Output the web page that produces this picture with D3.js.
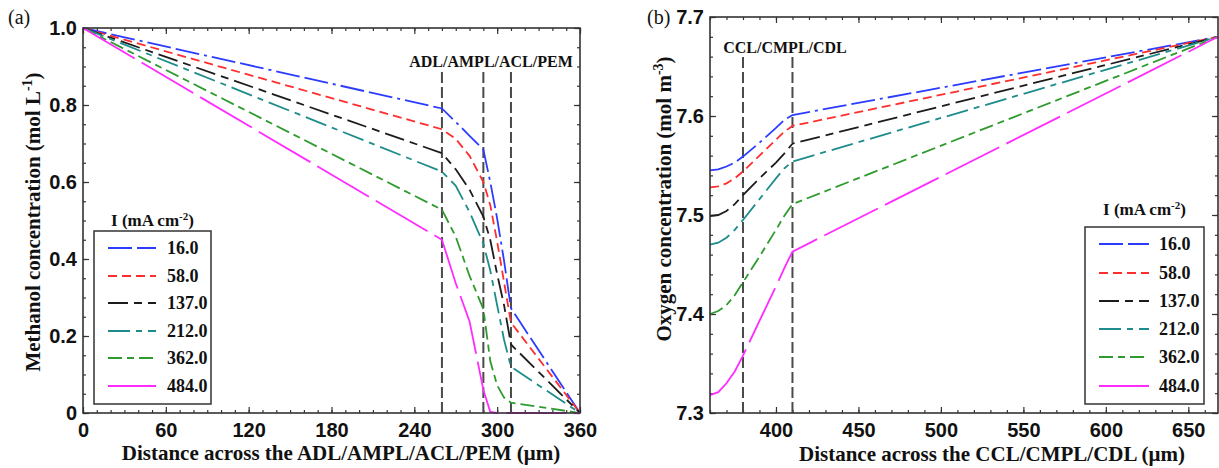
<!DOCTYPE html>
<html>
<head>
<meta charset="utf-8">
<script src="https://cdn.jsdelivr.net/npm/d3@7"></script>
<style>
  body { margin: 0; background: #fff; }
  svg { display: block; font-family: "Liberation Serif", "Times New Roman", serif; }
  .tick text { font-weight: bold; font-size: 20px; fill: #111; }
  .tick line { stroke: #333; stroke-width: 1.2; }
</style>
</head>
<body>
<div id="chart"></div>
<script>
// current densities (legend) and their styles
const currents = ["16.0", "58.0", "137.0", "212.0", "362.0", "484.0"];
const colors = ["#2b3cff", "#ff2e2e", "#1c1c1c", "#1f8c8c", "#2f9b2f", "#ff2cff"];
const dashes = ["24,5,24,5,3,5", "9,5", "20,6,8,6", "22,6,6,6", "14,5,7,5", "60,8"];

// (a) methanol concentration across ADL/AMPL/ACL/PEM
const methanolDist = [0, 260, 270, 280, 290, 295, 300, 305, 310, 360];
const methanol16  = [1.0, 0.791, 0.756, 0.720, 0.684, 0.600, 0.505, 0.395, 0.272, 0];
const methanol58  = [1.0, 0.737, 0.712, 0.668, 0.600, 0.540, 0.445, 0.340, 0.235, 0];
const methanol137 = [1.0, 0.675, 0.633, 0.580, 0.510, 0.450, 0.360, 0.280, 0.178, 0];
const methanol212 = [1.0, 0.627, 0.590, 0.522, 0.440, 0.370, 0.280, 0.190, 0.120, 0];
const methanol362 = [1.0, 0.528, 0.458, 0.356, 0.270, 0.135, 0.072, 0.040, 0.027, 0];
const methanol484 = [1.0, 0.450, 0.337, 0.238, 0.060, 0.003, 0, 0, 0, 0];
const methanolLayers = [260, 290, 310];
const methanolXTicks = [0, 60, 120, 180, 240, 300, 360];
const methanolYTicks = [0, 0.2, 0.4, 0.6, 0.8, 1.0];

// (b) oxygen concentration across CCL/CMPL/CDL
const oxygenDist = [360, 365, 370, 375, 380, 390, 400, 405, 410, 668];
const oxygen16  = [7.545, 7.546, 7.549, 7.553, 7.559, 7.573, 7.588, 7.596, 7.601, 7.680];
const oxygen58  = [7.528, 7.529, 7.532, 7.537, 7.544, 7.560, 7.576, 7.584, 7.590, 7.680];
const oxygen137 = [7.499, 7.500, 7.504, 7.511, 7.520, 7.537, 7.553, 7.562, 7.572, 7.680];
const oxygen212 = [7.470, 7.472, 7.477, 7.485, 7.495, 7.516, 7.537, 7.547, 7.554, 7.680];
const oxygen362 = [7.400, 7.403, 7.409, 7.419, 7.432, 7.458, 7.485, 7.499, 7.511, 7.680];
const oxygen484 = [7.318, 7.321, 7.330, 7.342, 7.358, 7.393, 7.428, 7.446, 7.463, 7.680];
const oxygenLayers = [380, 410];
const oxygenXTicks = [400, 450, 500, 550, 600, 650];
const oxygenYTicks = [7.3, 7.4, 7.5, 7.6, 7.7];

const W = 1219, H = 468;
const svg = d3.select("#chart").append("svg")
  .attr("width", W).attr("height", H)
  .attr("viewBox", `0 0 ${W} ${H}`);

function drawPanel(p) {
  const x = d3.scaleLinear().domain(p.xDomain).range([p.left, p.right]);
  const y = d3.scaleLinear().domain(p.yDomain).range([p.bottom, p.top]);
  const g = svg.append("g");

  const xMinor = d3.range(p.xDomain[0], p.xDomain[1] + 0.001, p.xMinorStep);
  const yMinor = d3.range(p.yDomain[0], p.yDomain[1] + 1e-6, p.yMinorStep);

  // minor ticks on all four sides, pointing inwards
  const minor = [
    [d3.axisBottom(x).tickValues(xMinor), `translate(0,${p.bottom})`],
    [d3.axisTop(x).tickValues(xMinor), `translate(0,${p.top})`],
    [d3.axisLeft(y).tickValues(yMinor), `translate(${p.left},0)`],
    [d3.axisRight(y).tickValues(yMinor), `translate(${p.right},0)`]
  ];
  minor.forEach(([ax, tr]) => {
    g.append("g").attr("transform", tr)
      .call(ax.tickSize(-3).tickFormat(""))
      .call(s => s.select(".domain").remove());
  });

  // major ticks
  g.append("g").attr("transform", `translate(0,${p.bottom})`)
    .call(d3.axisBottom(x).tickValues(p.xTicks).tickSize(-6).tickPadding(10).tickFormat(p.xFormat))
    .call(s => s.select(".domain").remove())
    .call(s => s.selectAll("text").attr("font-family", null));
  g.append("g").attr("transform", `translate(0,${p.top})`)
    .call(d3.axisTop(x).tickValues(p.xTicks).tickSize(-6).tickFormat(""))
    .call(s => s.select(".domain").remove());
  g.append("g").attr("transform", `translate(${p.left},0)`)
    .call(d3.axisLeft(y).tickValues(p.yTicks).tickSize(-6).tickPadding(6).tickFormat(p.yFormat))
    .call(s => s.select(".domain").remove())
    .call(s => s.selectAll("text").attr("font-family", null));
  g.append("g").attr("transform", `translate(${p.right},0)`)
    .call(d3.axisRight(y).tickValues(p.yTicks).tickSize(-6).tickFormat(""))
    .call(s => s.select(".domain").remove());
  g.selectAll(".tick line").attr("stroke", "#333");

  // layer boundaries
  g.selectAll("line.layer").data(p.layers).join("line")
    .attr("class", "layer")
    .attr("x1", d => x(d)).attr("x2", d => x(d))
    .attr("y1", p.layerTop).attr("y2", p.bottom)
    .attr("stroke", "#4a4a4a").attr("stroke-width", 2)
    .attr("stroke-dasharray", "11,4");
  g.append("text")
    .attr("x", p.layerLabelX).attr("y", p.layerLabelY)
    .attr("text-anchor", "middle")
    .attr("font-weight", "bold").attr("font-size", 16).attr("fill", "#111")
    .text(p.layerLabel);

  // curves
  const line = d3.line().x(d => x(d[0])).y(d => y(d[1]));
  p.series.forEach((vals, i) => {
    g.append("path")
      .datum(p.dist.map((d, j) => [d, vals[j]]))
      .attr("fill", "none")
      .attr("stroke", colors[i])
      .attr("stroke-width", 1.8)
      .attr("stroke-dasharray", dashes[i])
      .attr("d", line);
  });

  // frame
  g.append("rect")
    .attr("x", p.left).attr("y", p.top)
    .attr("width", p.right - p.left).attr("height", p.bottom - p.top)
    .attr("fill", "none").attr("stroke", "#333").attr("stroke-width", 1.6);

  // legend
  const L = p.legend;
  const title = g.append("text")
    .attr("x", (L.x0 + L.x1) / 2).attr("y", L.titleY)
    .attr("text-anchor", "middle")
    .attr("font-weight", "bold").attr("font-size", 17).attr("fill", "#111");
  title.append("tspan").text("I (mA cm");
  title.append("tspan").attr("font-size", 11).attr("dy", -6).text("-2");
  title.append("tspan").attr("dy", 6).text(")");
  g.append("rect")
    .attr("x", L.x0).attr("y", L.y0)
    .attr("width", L.x1 - L.x0).attr("height", L.y1 - L.y0)
    .attr("fill", "#fff").attr("stroke", "#333").attr("stroke-width", 1.5);
  currents.forEach((c, i) => {
    const yy = L.rowY[i];
    g.append("line")
      .attr("x1", L.lineX0).attr("x2", L.lineX1)
      .attr("y1", yy).attr("y2", yy)
      .attr("stroke", colors[i]).attr("stroke-width", 1.8)
      .attr("stroke-dasharray", i === 5 ? null : dashes[i]);
    g.append("text")
      .attr("x", L.textX).attr("y", yy).attr("dy", "0.35em")
      .attr("font-weight", "bold").attr("font-size", 18).attr("fill", "#111")
      .text(c);
  });

  // axis titles
  g.append("text")
    .attr("x", p.xTitleX).attr("y", p.xTitleY)
    .attr("text-anchor", "middle")
    .attr("font-weight", "bold").attr("font-size", 21).attr("fill", "#111")
    .text(p.xTitle);
  const yt = g.append("text")
    .attr("transform", `translate(${p.yTitleX},${p.yTitleY}) rotate(-90)`)
    .attr("text-anchor", "middle")
    .attr("font-weight", "bold").attr("font-size", 21).attr("fill", "#111");
  yt.append("tspan").text(p.yTitle[0]);
  yt.append("tspan").attr("font-size", 14).attr("dy", -8).text(p.yTitle[1]);
  yt.append("tspan").attr("dy", 8).text(p.yTitle[2]);

  // panel tag
  g.append("text")
    .attr("x", p.tagX).attr("y", 24)
    .attr("font-size", 20).attr("fill", "#111")
    .text(p.tag);
}

drawPanel({
  tag: "(a)", tagX: 8,
  left: 83, right: 580, top: 28, bottom: 413,
  xDomain: [0, 360], yDomain: [0, 1],
  xTicks: methanolXTicks, yTicks: methanolYTicks,
  xMinorStep: 10, yMinorStep: 0.05,
  xFormat: d3.format("d"), yFormat: d => d === 0 ? "0" : d3.format(".1f")(d),
  dist: methanolDist,
  series: [methanol16, methanol58, methanol137, methanol212, methanol362, methanol484],
  layers: methanolLayers, layerTop: 72,
  layerLabel: "ADL/AMPL/ACL/PEM", layerLabelX: 491, layerLabelY: 67,
  legend: { x0: 94, x1: 211, y0: 231, y1: 404, titleY: 226,
            rowY: [248, 276, 303, 331, 358, 386],
            lineX0: 108, lineX1: 156, textX: 167 },
  xTitle: "Distance across the ADL/AMPL/ACL/PEM (\u03bcm)", xTitleX: 341, xTitleY: 460,
  yTitle: ["Methanol concentration (mol L", "-1", ")"], yTitleX: 40, yTitleY: 222
});

drawPanel({
  tag: "(b)", tagX: 647,
  left: 710, right: 1218, top: 17, bottom: 413,
  xDomain: [360, 668], yDomain: [7.3, 7.7],
  xTicks: oxygenXTicks, yTicks: oxygenYTicks,
  xMinorStep: 10, yMinorStep: 0.02,
  xFormat: d3.format("d"), yFormat: d3.format(".1f"),
  dist: oxygenDist,
  series: [oxygen16, oxygen58, oxygen137, oxygen212, oxygen362, oxygen484],
  layers: oxygenLayers, layerTop: 57,
  layerLabel: "CCL/CMPL/CDL", layerLabelX: 785, layerLabelY: 53,
  legend: { x0: 1085, x1: 1204, y0: 227, y1: 404, titleY: 215,
            rowY: [244, 273, 301, 329, 357, 386],
            lineX0: 1099, lineX1: 1149, textX: 1159 },
  xTitle: "Distance across the CCL/CMPL/CDL (\u03bcm)", xTitleX: 992, xTitleY: 461,
  yTitle: ["Oxygen concentration (mol m", "-3", ")"], yTitleX: 671, yTitleY: 199
});
</script>
</body>
</html>
